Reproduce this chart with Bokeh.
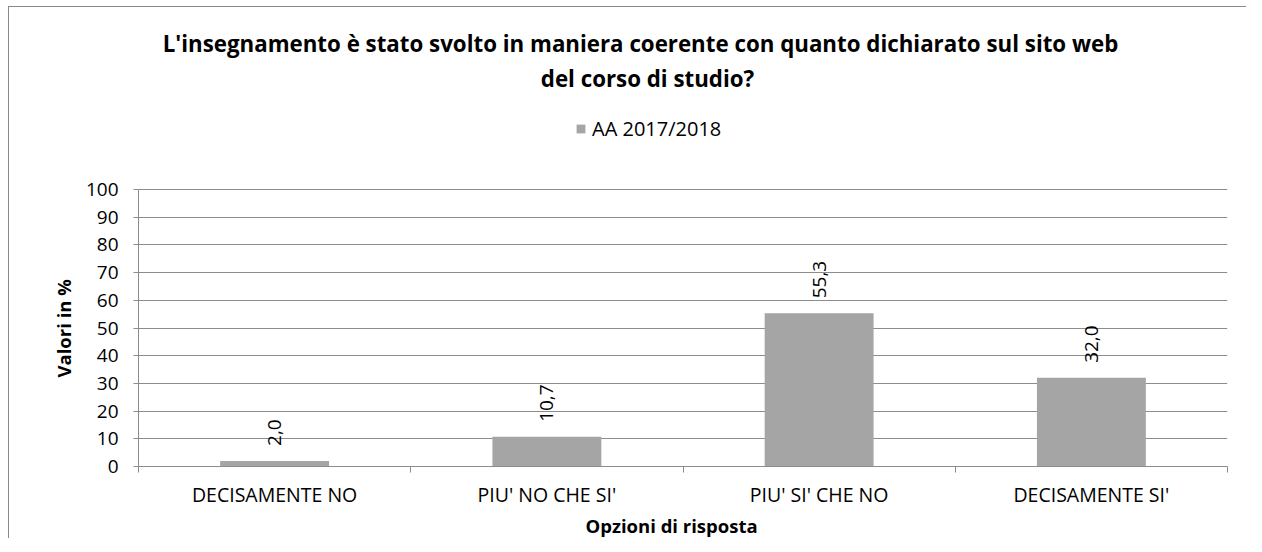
import math
from bokeh.plotting import figure
from bokeh.models import (FixedTicker, Legend, LegendItem, ColumnDataSource, Range1d,
                          CustomJSTickFormatter, Label, Title, InlineStyleSheet)
from bokeh.embed import file_html
from bokeh.resources import INLINE
from bokeh.core.properties import value

# ---- data ----
categories = ["DECISAMENTE NO", "PIU' NO CHE SI'", "PIU' SI' CHE NO", "DECISAMENTE SI'"]
values = [2.0, 10.7, 55.3, 32.0]
value_labels = ["2,0", "10,7", "55,3", "32,0"]
series_name = "AA 2017/2018"
y_ticks = [0, 10, 20, 30, 40, 50, 60, 70, 80, 90, 100]
title_line1 = "L'insegnamento è stato svolto in maniera coerente con quanto dichiarato sul sito web"
title_line2 = "del corso di studio?"
x_title = "Opzioni di risposta"
y_title = "Valori in %"

FONT = "Open Sans"
BAR = "#a5a5a5"
GRID = "#8c8c8c"

# ---- layout (pixels on the canvas) ----
W, H = 1246, 538
FRAME_L, FRAME_R, FRAME_B = 138, 1227, 466
PX_PER_UNIT = 277 / 100.0          # 0..100 spans 277 px
Y_END = FRAME_B / PX_PER_UNIT      # frame reaches the canvas top, room for titles/legend

xs = [i + 0.5 for i in range(len(categories))]
src = ColumnDataSource(dict(x=xs, top=values, label=value_labels))

border_css = InlineStyleSheet(css="""
:host { position: relative; }
:host::after { content: ""; position: absolute; left: 8px; top: 6px; right: 0; bottom: 0;
  border-left: 1px solid #8a8a8a; border-top: 1px solid #8a8a8a; pointer-events: none; }
""")
p = figure(width=W, height=H, x_range=Range1d(0, len(categories)), y_range=Range1d(0, Y_END),
           output_backend="svg", toolbar_location=None, title=None,
           min_border_left=FRAME_L, min_border_right=W - FRAME_R, min_border_top=0,
           min_border_bottom=H - FRAME_B, stylesheets=[border_css])
p.outline_line_color = None
p.background_fill_color = "white"
p.border_fill_color = "white"

bars = p.vbar(x="x", top="top", width=0.4, source=src, fill_color=BAR, line_color=None)

p.text(x="x", y="top", text="label", source=src, angle=math.pi / 2, text_align="left",
       text_baseline="middle", y_offset=-15, text_font=value(FONT), text_font_size="19px",
       text_color="black")

# y axis
yax = p.yaxis[0]
yax.ticker = FixedTicker(ticks=y_ticks)
yax.bounds = (y_ticks[0], y_ticks[-1])
yax.major_tick_out = 5
yax.major_tick_in = 0
yax.minor_tick_out = 0
yax.minor_tick_in = 0
yax.axis_line_color = GRID
yax.major_tick_line_color = GRID
yax.major_label_text_font = FONT
yax.major_label_text_font_size = "19px"
yax.major_label_text_color = "black"
yax.major_label_standoff = 15

# x axis
xax = p.xaxis[0]
xax.ticker = FixedTicker(ticks=xs, minor_ticks=list(range(len(categories) + 1)))
xax.formatter = CustomJSTickFormatter(args=dict(labels=categories),
                                      code="return labels[Math.floor(tick)] || '';")
xax.major_tick_out = 0
xax.major_tick_in = 0
xax.minor_tick_out = 6
xax.minor_tick_in = 0
xax.minor_tick_line_color = GRID
xax.axis_line_color = GRID
xax.major_label_text_font = FONT
xax.major_label_text_font_size = "19.5px"
xax.major_label_text_color = "black"
xax.major_label_standoff = 8

p.xgrid.grid_line_color = None
p.ygrid.ticker = FixedTicker(ticks=y_ticks)
p.ygrid.grid_line_color = GRID

# axis titles as side titles (start offsets measured from the frame's bottom / left edge)
p.add_layout(Title(text=y_title, align="left", offset=89, standoff=13, text_font=FONT,
                   text_font_size="18.5px", text_font_style="bold", text_color="black"),
             "left")
p.add_layout(Title(text=x_title, align="left", offset=585 - FRAME_L, standoff=0,
                   text_font=FONT, text_font_size="18.5px", text_font_style="bold",
                   text_color="black", text_line_height=1.0),
             "below")

# chart title lines (screen units, measured from the frame's bottom-left corner)
for txt, cx, cy in [(title_line1, 640, 43), (title_line2, 647, 78)]:
    p.add_layout(Label(x=cx - FRAME_L, y=FRAME_B - cy, x_units="screen", y_units="screen",
                       text=txt, text_align="center", text_baseline="middle",
                       text_font=FONT, text_font_size="22.3px", text_font_style="bold",
                       text_color="black"))

legend = Legend(items=[LegendItem(label=series_name, renderers=[bars])],
                location=(575 - FRAME_L, FRAME_B - 142), orientation="horizontal",
                padding=0, margin=0, border_line_alpha=0, background_fill_alpha=0,
                glyph_width=11, glyph_height=11, label_height=22, label_standoff=6,
                label_text_font=FONT, label_text_font_size="20px", label_text_color="black")
p.add_layout(legend)

open("out.html", "w").write(file_html(p, INLINE))
